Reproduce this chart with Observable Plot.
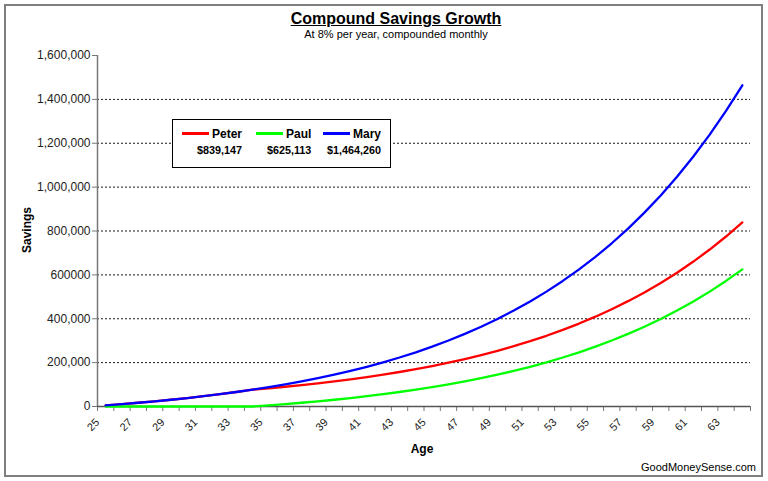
<!DOCTYPE html>
<html>
<head>
<meta charset="utf-8">
<script src="https://cdn.jsdelivr.net/npm/d3@7"></script>
<script src="https://cdn.jsdelivr.net/npm/@observablehq/plot@0.6"></script>
<style>
  html, body { margin: 0; padding: 0; background: #fff; }
  #wrap { position: relative; width: 768px; height: 481px; overflow: hidden;
          font-family: "Liberation Sans", Arial, Helvetica, sans-serif; color: #000; }
  #wrap svg { position: absolute; left: 0; top: 0; }
  .abs { position: absolute; white-space: nowrap; }
  #frame { position: absolute; left: 4px; top: 4px; width: 759px; height: 473px;
           border: 2px solid #7f7f7f; box-sizing: border-box; pointer-events: none; }
  #title { left: 396px; top: 10px; transform: translateX(-50%); font-size: 16px; font-weight: bold;
           line-height: 18px; text-decoration: underline; }
  #subtitle { left: 396px; top: 27px; transform: translateX(-50%); font-size: 11px; line-height: 14px; }
  #ylab { left: 27px; top: 230px; transform: translate(-50%, -50%) rotate(-90deg); font-size: 12px;
          font-weight: bold; line-height: 14px; }
  #xlab { left: 422px; top: 449px; transform: translate(-50%, -50%); font-size: 12px; font-weight: bold; line-height: 14px; }
  #footer { right: 12px; top: 460px; font-size: 11px; line-height: 14px; }
  #legend { left: 172px; top: 119px; width: 219px; height: 49px; border: 1px solid #000;
            box-sizing: border-box; background: #fff; }
  .lcol { position: absolute; top: 127px; }
  .lrow1 { font-size: 12px; font-weight: bold; line-height: 14px; white-space: nowrap; }
  .sw { display: inline-block; width: 27px; height: 3px; vertical-align: middle; margin-right: 3px; position: relative; top: -1px; }
  .lrow2 { font-size: 10.8px; font-weight: bold; line-height: 13px; text-align: right; margin-top: 3px; white-space: nowrap; }
</style>
</head>
<body>
<div id="wrap">
  <div id="frame"></div>
  <div id="title" class="abs">Compound Savings Growth</div>
  <div id="subtitle" class="abs">At 8% per year, compounded monthly</div>
  <div id="ylab" class="abs">Savings</div>
  <div id="xlab" class="abs">Age</div>
  <div id="footer" class="abs">GoodMoneySense.com</div>
  <div id="legend" class="abs"></div>
</div>
<script>
// ---- data ----
const ages = [25,26,27,28,29,30,31,32,33,34,35,36,37,38,39,40,41,42,43,44,
              45,46,47,48,49,50,51,52,53,54,55,56,57,58,59,60,61,62,63,64];
const seriesNames = ["Peter", "Paul", "Mary"];
const seriesColors = ["#ff0000", "#00ff00", "#0000ff"];
const finalLabels = ["$839,147", "$625,113", "$1,464,260"];
const peter = [5222,10878,17003,23635,30819,38600,47025,56150,66033,76736,
               83105,90003,97473,105564,114325,123814,134091,145220,157273,170327,
               184465,199775,216356,234314,253763,274825,297635,322338,349092,378067,
               409446,443430,480234,520094,563263,610014,660643,715479,774863,839147];
const paul = [0,0,0,0,0,0,0,0,0,0,
              5222,10878,17003,23635,30819,38600,47025,56150,66033,76736,
              88327,100880,114475,129198,145144,162413,181116,201370,223306,247062,
              272790,300654,330830,363511,398905,437236,478749,523707,572397,625113];
const mary = [5222,10878,17003,23635,30819,38600,47025,56150,66033,76736,
              88327,100880,114475,129198,145144,162413,181116,201370,223306,247062,
              272790,300654,330830,363511,398905,437236,478749,523707,572397,625127,
              682233,744081,811061,883602,962165,1047246,1139390,1239181,1347253,1464260];
const yTicks = [0,200000,400000,600000,800000,1000000,1200000,1400000,1600000];
const yTickLabels = ["0","200,000","400,000","600000","800,000","1,000,000","1,200,000","1,400,000","1,600,000"];
const gridValues = [200000,400000,600000,800000,1000000,1200000,1400000];
const xLabelAges = [25,27,29,31,33,35,37,39,41,43,45,47,49,51,53,55,57,59,61,63];

// ---- build ----
const seriesValues = [peter, paul, mary];
const rows = [];
seriesNames.forEach((name, i) => ages.forEach((a, j) => rows.push({age: a, value: seriesValues[i][j], series: name})));
const xDomain = [ages[0] - 0.5, ages[ages.length - 1] + 0.5];
const boundaries = ages.map(a => a - 0.5).concat([xDomain[1]]);
const yLabelMap = new Map(yTicks.map((t, i) => [t, yTickLabels[i]]));

const chart = Plot.plot({
  width: 768, height: 481,
  marginLeft: 97, marginRight: 18, marginTop: 55, marginBottom: 75,
  style: {background: "none", fontFamily: '"Liberation Sans", Arial, sans-serif', overflow: "visible"},
  x: {domain: xDomain},
  y: {domain: [0, 1600000]},
  color: {domain: seriesNames, range: seriesColors},
  marks: [
    Plot.gridY(gridValues, {stroke: "#000", strokeOpacity: 0.9, strokeDasharray: "2,2", strokeWidth: 1}),
    Plot.axisY(yTicks, {tickSize: 5, tickPadding: 2, stroke: "#777", fill: "#222", fontSize: 12,
                        tickFormat: d => yLabelMap.get(d), label: null}),
    Plot.axisX(boundaries, {tickSize: 5, text: null, stroke: "#777", label: null}),
    Plot.axisX(xLabelAges, {tickSize: 0, tickPadding: 14, tickRotate: -45, textAnchor: "end",
                            fontSize: 11, fill: "#222", dx: -8, label: null}),
    Plot.ruleX([xDomain[0]], {stroke: "#777", strokeWidth: 1.5}),
    Plot.ruleY([0], {stroke: "#555", strokeWidth: 1.5}),
    Plot.line(rows, {x: "age", y: "value", z: "series", stroke: "series", strokeWidth: 2.3})
  ]
});
document.getElementById("wrap").insertBefore(chart, document.getElementById("frame"));

// legend
const colLefts = [182, 256, 323];
const wrap = document.getElementById("wrap");
seriesNames.forEach((name, i) => {
  const col = document.createElement("div");
  col.className = "lcol";
  col.style.left = colLefts[i] + "px";
  col.innerHTML = `<div class="lrow1"><span class="sw" style="background:${seriesColors[i]}"></span>${name}</div>` +
                  `<div class="lrow2">${finalLabels[i]}</div>`;
  wrap.appendChild(col);
});
</script>
</body>
</html>
